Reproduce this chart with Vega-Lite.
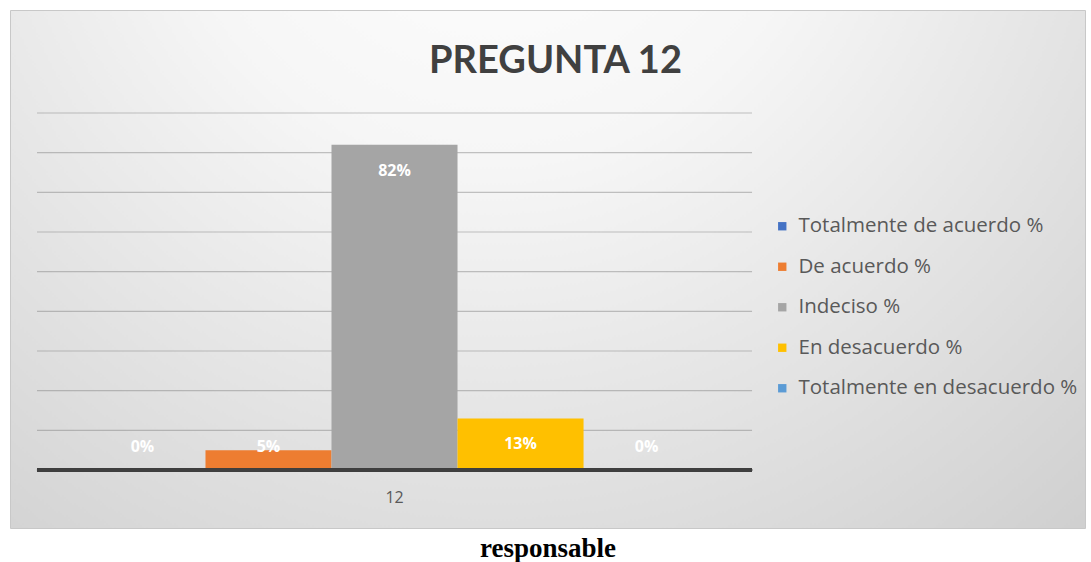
{
  "$schema": "https://vega.github.io/schema/vega-lite/v6.json",
  "width": 1075,
  "height": 518,
  "autosize": {"type": "none"},
  "padding": {"left": 10, "top": 10, "right": 6, "bottom": 34},
  "background": "#ffffff",
  "title": {
    "text": "PREGUNTA 12",
    "anchor": "middle",
    "frame": "group",
    "orient": "top",
    "offset": -101,
    "baseline": "alphabetic",
    "dx": 8,
    "font": "Lato",
    "fontSize": 38,
    "fontWeight": "bold",
    "color": "#404040"
  },
  "config": {
    "view": {
      "stroke": "#c8c8c8",
      "strokeWidth": 1,
      "fill": {
        "gradient": "radial",
        "x1": 0.45, "y1": 0.1, "r1": 0,
        "x2": 0.45, "y2": 0.1, "r2": 0.85,
        "stops": [
          {"offset": 0, "color": "#ffffff"},
          {"offset": 0.35, "color": "#f6f6f6"},
          {"offset": 1, "color": "#cfcfcf"}
        ]
      }
    },
    "legend": {
      "orient": "none",
      "legendX": 762,
      "legendY": 206,
      "symbolType": "square",
      "symbolSize": 70,
      "symbolStrokeWidth": 0,
      "labelFont": "Open Sans",
      "labelFontSize": 20.5,
      "labelColor": "#595959",
      "labelOffset": 6,
      "labelLimit": 400,
      "rowPadding": 19.5,
      "title": null
    }
  },
  "datasets": {
    "respuestas": [
      {"pregunta": "12", "serie": "Totalmente de acuerdo %", "valor": 0.0},
      {"pregunta": "12", "serie": "De acuerdo %", "valor": 0.05},
      {"pregunta": "12", "serie": "Indeciso %", "valor": 0.82},
      {"pregunta": "12", "serie": "En desacuerdo %", "valor": 0.13},
      {"pregunta": "12", "serie": "Totalmente en desacuerdo %", "valor": 0.0}
    ],
    "rejilla": [
      {"g": 0.1}, {"g": 0.2}, {"g": 0.3}, {"g": 0.4}, {"g": 0.5},
      {"g": 0.6}, {"g": 0.7}, {"g": 0.8}, {"g": 0.9}
    ]
  },
  "resolve": {"scale": {"x": "shared", "y": "shared"}},
  "layer": [
    {
      "data": {"name": "rejilla"},
      "mark": {"type": "rule", "color": "#7f7f7f", "opacity": 0.45, "strokeWidth": 1.2},
      "encoding": {
        "y": {"field": "g", "type": "quantitative", "axis": null,
              "scale": {"domain": [-0.1462, 1.1596], "nice": false, "zero": false}},
        "x": {"datum": "12", "type": "nominal", "bandPosition": 0,
              "scale": {"type": "band", "domain": ["12"], "paddingInner": 0, "paddingOuter": 0.2517, "align": 0.075},
              "axis": {
                "offset": -58, "domain": false, "ticks": false, "grid": false,
                "labelPadding": 19, "labelFont": "Open Sans", "labelFontSize": 16, "labelColor": "#595959",
                "labelAngle": 0,
                "title": "responsable", "titleFont": "Liberation Serif", "titleFontSize": 27,
                "titleFontWeight": "bold", "titleColor": "#000000", "titlePadding": 30
              }},
        "x2": {"datum": "12", "bandPosition": 1}
      }
    },
    {
      "data": {"name": "respuestas"},
      "mark": {"type": "bar"},
      "encoding": {
        "x": {"field": "pregunta", "type": "nominal"},
        "xOffset": {"field": "serie", "type": "nominal",
                    "sort": ["Totalmente de acuerdo %", "De acuerdo %", "Indeciso %", "En desacuerdo %", "Totalmente en desacuerdo %"],
                    "scale": {"paddingInner": 0, "paddingOuter": 0.337}},
        "y": {"field": "valor", "type": "quantitative"},
        "y2": {"datum": 0},
        "color": {"field": "serie", "type": "nominal",
                  "sort": ["Totalmente de acuerdo %", "De acuerdo %", "Indeciso %", "En desacuerdo %", "Totalmente en desacuerdo %"],
                  "scale": {"domain": ["Totalmente de acuerdo %", "De acuerdo %", "Indeciso %", "En desacuerdo %", "Totalmente en desacuerdo %"],
                            "range": ["#4472C4", "#ED7D31", "#A5A5A5", "#FFC000", "#5B9BD5"]}}
      }
    },
    {
      "data": {"name": "rejilla"},
      "mark": {"type": "rule", "color": "#3f3f3f", "strokeWidth": 3},
      "encoding": {
        "y": {"datum": 0, "type": "quantitative"},
        "x": {"datum": "12", "type": "nominal", "bandPosition": 0},
        "x2": {"datum": "12", "bandPosition": 1}
      }
    },
    {
      "data": {"name": "respuestas"},
      "transform": [{"filter": "datum.valor >= 0.1"}],
      "mark": {"type": "text", "color": "#ffffff", "font": "Open Sans", "fontSize": 16, "fontWeight": "bold", "baseline": "middle", "dy": 26},
      "encoding": {
        "x": {"field": "pregunta", "type": "nominal"},
        "xOffset": {"field": "serie", "type": "nominal",
                    "sort": ["Totalmente de acuerdo %", "De acuerdo %", "Indeciso %", "En desacuerdo %", "Totalmente en desacuerdo %"]},
        "y": {"field": "valor", "type": "quantitative"},
        "text": {"field": "valor", "type": "quantitative", "format": ".0%"}
      }
    },
    {
      "data": {"name": "respuestas"},
      "transform": [{"filter": "datum.valor < 0.1"}],
      "mark": {"type": "text", "color": "#ffffff", "font": "Open Sans", "fontSize": 16, "fontWeight": "bold", "baseline": "middle", "dy": -23},
      "encoding": {
        "x": {"field": "pregunta", "type": "nominal"},
        "xOffset": {"field": "serie", "type": "nominal",
                    "sort": ["Totalmente de acuerdo %", "De acuerdo %", "Indeciso %", "En desacuerdo %", "Totalmente en desacuerdo %"]},
        "y": {"datum": 0, "type": "quantitative"},
        "text": {"field": "valor", "type": "quantitative", "format": ".0%"}
      }
    }
  ]
}
